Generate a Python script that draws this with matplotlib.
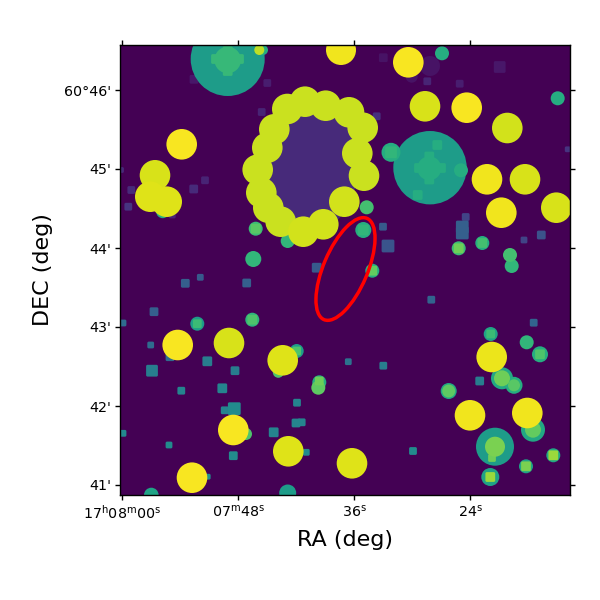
import matplotlib
matplotlib.use("Agg")
import matplotlib.pyplot as plt
from matplotlib.patches import Circle, Ellipse, FancyBboxPatch

# image pixel positions of the sky ticks
ra_tick_pix = [122.3, 238.3, 354.3, 470.3]
ra_tick_labels = [r"17$^{\mathrm{h}}$08$^{\mathrm{m}}$00$^{\mathrm{s}}$",
                  r"07$^{\mathrm{m}}$48$^{\mathrm{s}}$",
                  r"36$^{\mathrm{s}}$", r"24$^{\mathrm{s}}$"]
dec_tick_pix = [90, 169, 248, 327, 406, 484.5]
dec_tick_labels = ["60°46'", "45'", "44'", "43'", "42'", "41'"]

# bright sources: x, y, radius, value
circ_x = [227.7, 181.7, 155, 150.3, 166.7, 341, 408.3, 425, 466.7, 507.3, 430, 487, 525, 501.3, 556.3,
          177.7, 229, 282.7, 233.3, 288.3, 192, 352, 491.7, 470, 527.3, 495,
          287.3, 305, 325.7, 274.3, 267.3, 257.7, 261.3, 268.3, 280.7, 303.3, 323.3, 344.3,
          349, 362.7, 357.3, 364,
          227.7, 429.3, 162.7, 255.7, 287.7, 253.3, 259.3, 263, 442, 557.7, 461, 391, 366.7, 363.3,
          458.7, 482.3, 510, 511.7, 197.3, 252.3, 296.7, 278.3, 319.3, 318.3, 246, 151.3, 287.7,
          372.3, 490.7, 526.7, 540, 502, 502, 514, 514, 448.7, 448.7, 533, 533, 495, 494,
          553.3, 526, 490.3, 430, 411.7, 176.7]
circ_y = [59, 144.3, 175.3, 196.7, 201.7, 50, 62.3, 106.3, 107.7, 128, 167.7, 179.3, 179.3, 212.7, 207.7,
          345, 343, 360.3, 430, 451.3, 477.7, 463.3, 357, 415.3, 413, 446.7,
          109, 101.7, 105.7, 129.3, 147.7, 169.7, 192.7, 207.7, 221.7, 231.7, 224.3, 201.7,
          112.3, 127.7, 153.3, 175.7,
          60, 168.3, 211.7, 228.7, 241, 259, 50, 50, 53.3, 98.3, 170.3, 152.3, 207.3, 230,
          248.3, 243, 255, 266, 323.7, 319.7, 351, 372.3, 382.3, 387.7, 434, 495, 493,
          270.7, 334, 342.3, 354.3, 378.3, 378.3, 385.3, 385.3, 391, 391, 429.7, 429.7, 446.7, 446,
          455.3, 466.3, 477, 66, 76.7, 352]
circ_r = [37, 15.3, 15.3, 15.3, 15.3, 15, 15.3, 15.3, 15.3, 15.3, 36.7, 15.3, 15.3, 15.3, 15.3,
          15.3, 15.3, 15.3, 15.3, 15.3, 15.3, 15.3, 15.3, 15.3, 15.3, 19,
          15.3, 15.3, 15.3, 15.3, 15.3, 15.3, 15.3, 15.3, 15.3, 15.3, 15.3, 15.3,
          15.3, 15.3, 15.3, 15.3,
          13.3, 12, 6.5, 7, 7, 8, 5, 5, 7, 7, 7, 9.5, 7, 8,
          7, 7, 7, 7, 7, 7, 7, 5.5, 7, 7, 6, 7.3, 8.5,
          7, 7, 7, 8, 11, 8, 8.5, 6, 8, 6.5, 12, 8, 10,
          7, 7, 7, 9, 10, 6]
circ_val = [0.55, 0.99, 0.94, 0.95, 0.95, 0.98, 0.99, 0.94, 0.99, 0.93, 0.55, 0.98, 0.94, 0.98, 0.94,
            0.99, 0.94, 0.95, 0.99, 0.95, 0.99, 0.95, 0.97, 0.98, 0.98, 0.55,
            0.92, 0.92, 0.92, 0.92, 0.92, 0.92, 0.92, 0.92, 0.92, 0.93, 0.93, 0.93,
            0.92, 0.92, 0.92, 0.92,
            0.67, 0.62, 0.62, 0.68, 0.66, 0.66, 0.9, 0.62, 0.62, 0.62, 0.62, 0.62, 0.7, 0.62,
            0.68, 0.62, 0.7, 0.66, 0.55, 0.65, 0.55, 0.72, 0.62, 0.75, 0.72, 0.58, 0.55,
            0.62, 0.58, 0.66, 0.62, 0.6, 0.78, 0.62, 0.74, 0.6, 0.75, 0.6, 0.76, 0.8, 0.8,
            0.6, 0.58, 0.58, 0.05, 0.05, 0.45]

# compact sources: x, y, side, value
sq_x = [194, 267.3, 261.7, 193.7, 205, 131.3, 128.3, 172.3, 316.7, 383.3, 427.3, 459.7, 499.7, 376.7, 567.7,
        437.3, 417.7, 383, 388, 462.3, 462.3, 465.7, 524, 541.3, 185.3, 200.3, 246.7, 154, 123, 150.7, 170,
        207.3, 152, 235, 181.3, 222.3, 297, 224.7, 234.3, 296, 301.7, 273.7, 123, 169, 233.3, 306.3, 207.7,
        431.3, 533.7, 479.7, 413, 383.3, 348.3, 121,
        216, 239, 227.7, 227.7, 419, 441, 429.3, 429.3,
        197.3, 252.3, 296.7, 319.3, 255.7, 391, 363.3, 458.7, 482.3, 490.7, 540, 492, 553.3, 526, 490.3, 372.3]
sq_y = [79.3, 83, 112, 189, 180.3, 190, 206.7, 215, 267.7, 57.7, 81.3, 83.7, 67, 116.3, 149.3,
        145, 195, 226.7, 246, 227, 233, 217, 240, 235, 283.3, 277.3, 283, 311.7, 323, 345, 356.7,
        361.3, 370.7, 370.7, 390.7, 388.3, 402.7, 410.3, 408.7, 423, 422.3, 432.3, 433.3, 445, 455.7, 452.3, 476.7,
        299.7, 322.7, 381, 451, 365.7, 361.7, 170,
        59, 59, 51, 71, 168, 168, 156.5, 179.5,
        323.7, 319.7, 351, 381, 228.7, 152.3, 230, 248.3, 243, 334, 354.3, 458, 455.3, 466.3, 477, 270.7]
sq_s = [8, 7, 7, 8, 7, 7, 7, 6, 9, 8, 7, 7, 11, 7, 5,
        9, 9, 7, 12, 12, 12, 7, 6, 8, 8, 6, 8, 8, 6, 6, 8,
        9, 11, 8, 7, 9, 7, 7, 12, 8, 7, 9, 6, 6, 8, 6, 5,
        7, 7, 8, 7, 7, 6, 5,
        9, 9, 9, 9, 9, 9, 9, 9,
        8, 9, 8, 8, 9, 11, 10, 9, 9, 8, 9, 7, 9, 9, 9, 9]
sq_val = [0.06, 0.08, 0.1, 0.12, 0.1, 0.12, 0.15, 0.1, 0.28, 0.05, 0.1, 0.08, 0.06, 0.14, 0.15,
          0.62, 0.62, 0.28, 0.26, 0.3, 0.3, 0.2, 0.2, 0.25, 0.3, 0.28, 0.3, 0.3, 0.35, 0.35, 0.35,
          0.42, 0.42, 0.42, 0.45, 0.45, 0.45, 0.45, 0.48, 0.45, 0.45, 0.45, 0.47, 0.48, 0.48, 0.48, 0.5,
          0.32, 0.32, 0.42, 0.48, 0.42, 0.38, 0.12,
          0.67, 0.67, 0.67, 0.67, 0.62, 0.62, 0.62, 0.62,
          0.68, 0.72, 0.72, 0.78, 0.74, 0.66, 0.66, 0.78, 0.7, 0.68, 0.72, 0.78, 0.85, 0.8, 0.85, 0.76]

# diffuse central source
blob_xy = (312, 165)
blob_size = (92, 132)
blob_val = 0.12

# aperture
ap_xy = (345.5, 269)
ap_size = (110, 44)
ap_angle = -67

cmap = plt.get_cmap("viridis")

fig = plt.figure(figsize=(6, 6), dpi=100)
ax = fig.add_axes([120 / 600, 105 / 600, 450 / 600, 450 / 600])
ax.set_facecolor(cmap(0.0))
ax.set_xlim(120, 570)
ax.set_ylim(495, 45)

ax.add_patch(Ellipse(blob_xy, blob_size[0], blob_size[1], facecolor=cmap(blob_val), edgecolor="none", zorder=1))

# brighter sources sit on top
marks = []
for x, y, r, v in zip(circ_x, circ_y, circ_r, circ_val):
    marks.append((v, Circle((x, y), r, facecolor=cmap(v), edgecolor="none")))
for x, y, s, v in zip(sq_x, sq_y, sq_s, sq_val):
    s = s + 0.8
    marks.append((v, FancyBboxPatch((x - s / 2, y - s / 2), s, s, boxstyle="round,pad=0,rounding_size=1.5",
                                    facecolor=cmap(v), edgecolor="none")))
for i, (v, p) in enumerate(sorted(marks, key=lambda m: m[0])):
    p.set_zorder(2 + i * 0.001)
    ax.add_patch(p)

ax.add_patch(Ellipse(ap_xy, ap_size[0], ap_size[1], angle=ap_angle, facecolor="none", edgecolor="red",
                     linewidth=2.5, zorder=5))

ax.set_xticks(ra_tick_pix)
ax.set_xticklabels(ra_tick_labels)
ax.set_yticks(dec_tick_pix)
ax.set_yticklabels(dec_tick_labels)
ax.tick_params(top=True, right=True, length=3.5, width=1, labelsize=10.3, pad=3)
for sp in ax.spines.values():
    sp.set_linewidth(1)

ax.set_xlabel("RA (deg)", fontsize=16, labelpad=6)
ax.set_ylabel("DEC (deg)", fontsize=16, labelpad=8)

fig.savefig("out.png", dpi=100)
